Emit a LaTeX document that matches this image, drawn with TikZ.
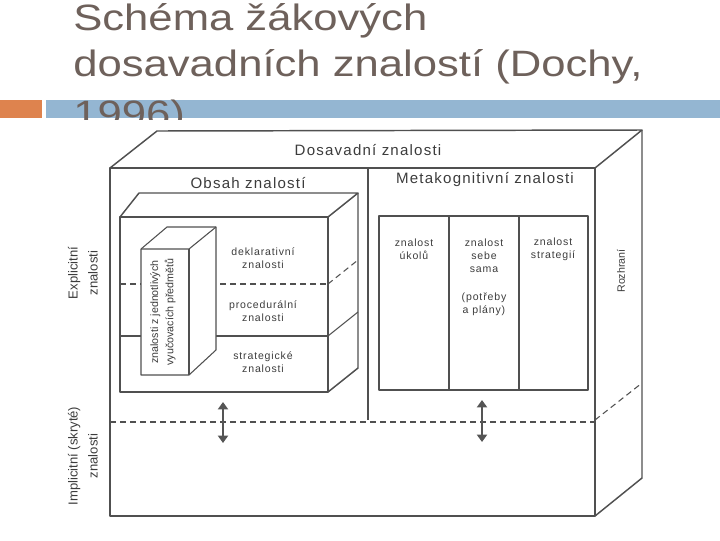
\documentclass[tikz,border=0pt]{standalone}
\usepackage{fontspec}
\setmainfont{Liberation Sans}
\newfontfamily\diagfont[LetterSpace=8]{Liberation Sans}
\usetikzlibrary{arrows.meta}
\definecolor{titlecol}{RGB}{110,97,91}
\definecolor{barorange}{RGB}{222,131,78}
\definecolor{barblue}{RGB}{148,182,210}
\definecolor{linecol}{RGB}{80,80,80}
\definecolor{txtcol}{RGB}{60,60,60}
\definecolor{arrowcol}{RGB}{85,85,85}
\begin{document}
\begin{tikzpicture}[x=0.75pt,y=-0.75pt,
  outer/.style={draw=linecol,line width=1.1pt,line join=round},
  inner/.style={draw=linecol,line width=0.8pt,line join=round},
  dashline/.style={draw=linecol,line width=0.8pt,dash pattern=on 4.5pt off 3pt},
  titletxt/.style={text=titlecol,font=\fontsize{27.5pt}{33pt}\selectfont,anchor=base west,inner sep=0,xscale=1.19},
  headtxt/.style={text=txtcol,font=\diagfont\fontsize{11.3pt}{13pt}\selectfont,inner sep=0},
  lbl/.style={text=txtcol,font=\diagfont\fontsize{7.9pt}{9.8pt}\selectfont,align=center,inner sep=0},
  sidetxt/.style={text=txtcol,font=\fontsize{9.8pt}{15pt}\selectfont,align=center,inner sep=0,rotate=90},
  dblarrow/.style={draw=arrowcol,line width=2.2pt,{Triangle[width=7.5pt,length=5.5pt]}-{Triangle[width=7.5pt,length=5.5pt]}}
]
\useasboundingbox (0,0) rectangle (720,540);
% --- slide bar and title ---
\fill[barorange] (0,100) rectangle (42,118);
\fill[barblue] (46,100) rectangle (720,118);
\node[titletxt] (t1) at (73,30) {Schéma žákových};
\node[titletxt] (t2) at (73,76) {dosavadních znalostí (Dochy,};
\begin{scope}
  \clip (0,0) rectangle (720,119);
  \node[titletxt] (t3) at (73,126) {1996)};
\end{scope}

% --- outer 3D box ---
\draw[outer] (110,168) rectangle (595,516);
\draw[outer] (110,168) -- (157,131) -- (642,130) -- (595,168);
\draw[outer] (642,130) -- (642,478) -- (595,516);
\node[headtxt] (dos) at (368,150) {Dosavadní znalosti};
\draw[inner] (368,168) -- (368,420);
\draw[dashline] (110,422) -- (595,422);
\draw[dashline] (595,420) -- (642,383);
\node[headtxt] (obs) at (248,183) {Obsah znalostí};
\node[headtxt] (meta) at (485,180) {Metakognitivní znalosti};
\node[text=txtcol,font=\fontsize{8pt}{10pt}\selectfont,inner sep=0,rotate=90] (roz) at (621,271) {Rozhraní};

% --- left side labels ---
\node[sidetxt] (expl) at (83,273) {Explicitní\\znalosti};
\node[sidetxt] (impl) at (83,456) {Implicitní (skryté)\\znalosti};

% --- content knowledge box ---
\draw[outer] (120,217) rectangle (328,392);
\draw[outer] (120,217) -- (139,193) -- (358,193) -- (328,217);
\draw[outer] (358,193) -- (358,368) -- (328,392);
\draw[dashline] (120,284) -- (328,284);
\draw[dashline] (328,284) -- (358,260);
\draw[inner] (120,336) -- (328,336);
\draw[inner] (328,336) -- (358,312);
\node[lbl] (dekl) at (263,258) {deklarativní\\znalosti};
\node[lbl] (proc) at (263,311) {procedurální\\znalosti};
\node[lbl] (strat) at (263,362) {strategické\\znalosti};

% --- subject knowledge column ---
\filldraw[fill=white,inner] (141,249) -- (167,227) -- (216,227) -- (216,350) -- (189,375) -- (141,375) -- cycle;
\draw[inner] (141,249) -- (189,249) -- (216,227);
\draw[inner] (189,249) -- (189,375);
\node[text=txtcol,font=\fontsize{8pt}{11.5pt}\selectfont,align=center,inner sep=0,rotate=90] (subj) at (163,312) {znalosti z jednotlivých\\vyučovacích předmětů};

% --- metacognitive columns ---
\draw[outer] (379,216) rectangle (588,390);
\draw[inner] (449,216) -- (449,390);
\draw[inner] (519,216) -- (519,390);
\node[lbl] (ukol) at (414,249) {znalost\\úkolů};
\node[lbl] (sebe) at (484,256) {znalost\\sebe\\sama};
\node[lbl] (potr) at (484,304) {(potřeby\\a plány)};
\node[lbl] (strg) at (553,249) {znalost\\strategií};

% --- arrows ---
\coordinate (a1t) at (223,402);
\coordinate (a1b) at (223,443);
\coordinate (a2t) at (482,400);
\coordinate (a2b) at (482,442);
\draw[dblarrow] (a1t) -- (a1b);
\draw[dblarrow] (a2t) -- (a2b);
\end{tikzpicture}
\end{document}
